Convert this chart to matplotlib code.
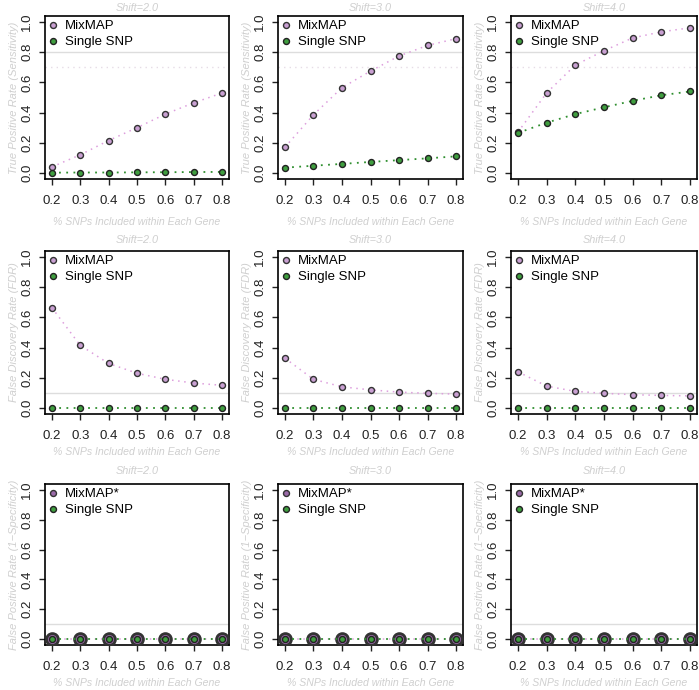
import numpy as np
import matplotlib
matplotlib.use("Agg")
import matplotlib.pyplot as plt

plt.rcParams['font.family'] = ['Liberation Sans', 'DejaVu Sans']

x = [0.2, 0.3, 0.4, 0.5, 0.6, 0.7, 0.8]
shifts = ["Shift=2.0", "Shift=3.0", "Shift=4.0"]

# row 1: sensitivity
tpr_mixmap = [[0.04, 0.12, 0.215, 0.30, 0.39, 0.465, 0.53],
              [0.17, 0.385, 0.565, 0.675, 0.775, 0.845, 0.89],
              [0.27, 0.53, 0.715, 0.81, 0.895, 0.935, 0.962]]
tpr_single = [[0.002, 0.003, 0.003, 0.004, 0.005, 0.006, 0.007],
              [0.035, 0.048, 0.06, 0.073, 0.085, 0.097, 0.11],
              [0.265, 0.333, 0.39, 0.435, 0.478, 0.515, 0.54]]
# row 2: FDR
fdr_mixmap = [[0.665, 0.415, 0.295, 0.23, 0.19, 0.165, 0.15],
              [0.33, 0.19, 0.14, 0.12, 0.105, 0.097, 0.092],
              [0.24, 0.145, 0.11, 0.097, 0.088, 0.083, 0.08]]
fdr_single = [[0, 0, 0, 0, 0, 0, 0]] * 3
# row 3: 1-specificity
fpr_mixmap = [[0, 0, 0, 0, 0, 0, 0]] * 3
fpr_single = [[0, 0, 0, 0, 0, 0, 0]] * 3

ylabels = ["True Positive Rate (Sensitivity)",
           "False Discovery Rate (FDR)",
           "False Positive Rate (1\u2212Specificity)"]
legend1 = ["MixMAP", "MixMAP", "MixMAP*"]
xlab = "% SNPs Included within Each Gene"

purple_fill = '#c9a0d2'
purple_line = '#dd9fdd'
green_fill = '#3f9e3f'
green_line = '#2f8f2f'
gray_txt = '#cfcfcf'

fig = plt.figure(figsize=(6.99, 6.90), dpi=100)
W, H = 699.0, 690.0
cols = [(45, 229), (278, 463), (511, 697)]
rows = [(16, 179), (251, 414), (484, 645)]
title_y = [8, 240, 471]     # pixel centres
xlab_y = [222, 452, 683]

data = [(tpr_mixmap, tpr_single), (fdr_mixmap, fdr_single), (fpr_mixmap, fpr_single)]

for r in range(3):
    for c in range(3):
        l, rr = cols[c]
        t, b = rows[r]
        hh = b - t
        ww = rr - l
        ax = fig.add_axes([l / W, 1 - b / H, ww / W, hh / H])
        mm, ss = data[r][0][c], data[r][1][c]
        if r == 0:
            ax.axhline(0.8, color='#dddddd', lw=1)
            ax.axhline(0.7, color='#e6dce6', lw=1, ls=(0, (1, 3)))
        else:
            ax.axhline(0.1, color='#dddddd', lw=1)
        ms = 8.5 if r == 2 else 4.3
        mew = 2.0 if r == 2 else 1.0
        ax.plot(x, mm, ls=(0, (1, 3)), color=purple_line, lw=1.1, zorder=3)
        ax.plot(x, mm, ls='none', marker='o', ms=ms, mfc=purple_fill if r < 2 else '#9a6aa8',
                mec='#333333', mew=mew, zorder=4, label=legend1[r])
        ax.plot(x, ss, ls=(0, (1, 3)), color=green_line, lw=1.3, zorder=5)
        ax.plot(x, ss, ls='none', marker='o', ms=4.3, mfc=green_fill, mec='#222222',
                mew=1.0, zorder=6, label="Single SNP")
        ax.set_xlim(0.176, 0.824)
        ax.set_ylim(-0.04, 1.04)
        ax.set_xticks(x)
        ax.set_xticklabels(["%.1f" % v for v in x])
        ax.set_yticks([0, 0.2, 0.4, 0.6, 0.8, 1.0])
        ax.set_yticklabels(["0.0", "0.2", "0.4", "0.6", "0.8", "1.0"], rotation=90, va='center')
        ax.tick_params(labelsize=9.5, length=4.5, width=1, colors='#222222')
        ax.tick_params(axis='x', pad=7)
        ax.tick_params(axis='y', pad=4)
        for sp in ax.spines.values():
            sp.set_linewidth(1.2)
        ax.set_title(shifts[c], fontsize=7.8, style='italic', color=gray_txt,
                     y=(b - title_y[r]) / hh, va='center', pad=0)
        ax.set_xlabel(xlab, fontsize=7.6, style='italic', color=gray_txt)
        ax.xaxis.set_label_coords(0.5, (b - xlab_y[r]) / hh)
        ax.xaxis.label.set_va('center')
        ax.set_ylabel(ylabels[r], fontsize=8, style='italic', color=gray_txt)
        ax.yaxis.set_label_coords(-31.0 / ww, 0.5)
        ax.yaxis.label.set_va('center')
        leg = ax.legend(loc='upper left', frameon=False, fontsize=9.5, handlelength=0.6,
                        handletextpad=0.6, borderaxespad=0.15, borderpad=0.15, labelspacing=0.3)
        for h in leg.legend_handles:
            h.set_markersize(4.3)
            h.set_markeredgewidth(1.0)

fig.savefig("out.png", dpi=100)
